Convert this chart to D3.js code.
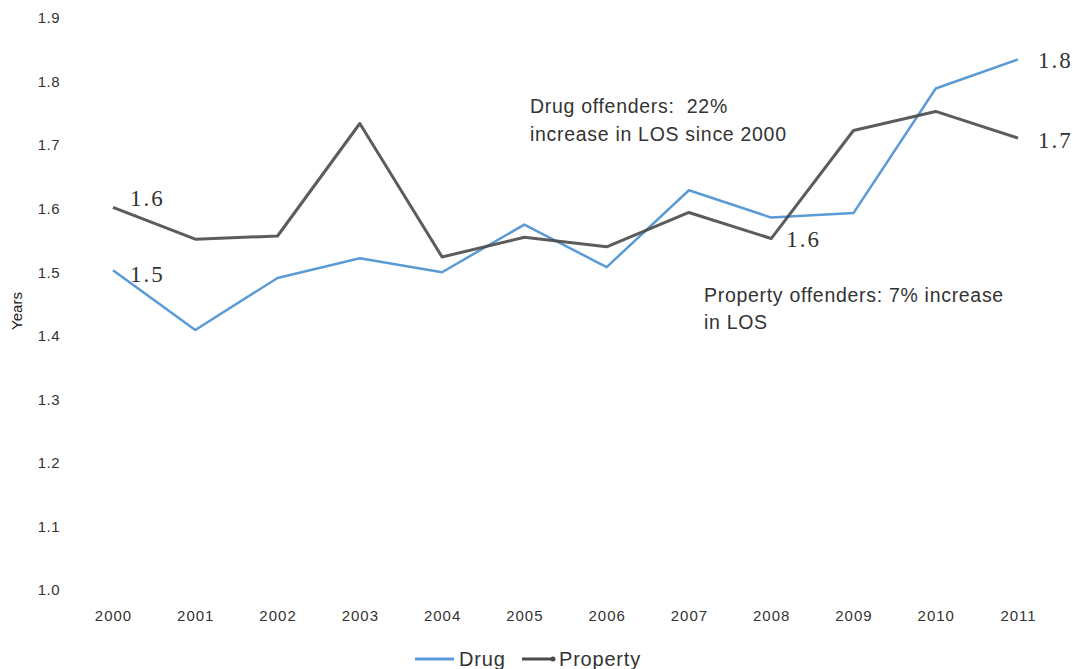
<!DOCTYPE html>
<html><head><meta charset="utf-8">
<script src="https://cdn.jsdelivr.net/npm/d3@7"></script>
<style>body{margin:0;background:#fff;} svg{display:block;} text{white-space:pre;}</style>
</head><body>
<svg id="chart" width="1073" height="669"></svg>
<script>
const years = ["2000","2001","2002","2003","2004","2005","2006","2007","2008","2009","2010","2011"];
const drug = [1.503,1.409,1.491,1.522,1.500,1.575,1.508,1.629,1.586,1.593,1.789,1.835];
const property = [1.602,1.552,1.557,1.734,1.524,1.555,1.540,1.594,1.553,1.723,1.753,1.711];
const yTicks = [1.0,1.1,1.2,1.3,1.4,1.5,1.6,1.7,1.8,1.9];
const seriesNames = ["Drug","Property"];
const colors = ["#5b9bd5","#4a4a4a"];

const svg = d3.select("#chart");
const x = d3.scalePoint().domain(years).range([113,1018]);
const y = d3.scaleLinear().domain([1.0,1.9]).range([590,18]);
const font = "'Liberation Sans', Arial, sans-serif";

// y axis labels
const yAxis = d3.axisLeft(y).tickValues(yTicks).tickFormat(d3.format(".1f")).tickSize(0).tickPadding(0);
const gy = svg.append("g").attr("transform","translate(60,0)").call(yAxis);
gy.select(".domain").remove();
gy.selectAll("text").attr("font-family",font).attr("font-size",15).attr("letter-spacing",0.5).attr("fill","#333");

// x axis labels
const xAxis = d3.axisBottom(x).tickSize(0).tickPadding(0);
const gx = svg.append("g").attr("transform","translate(0,610)").call(xAxis);
gx.select(".domain").remove();
gx.selectAll("text").attr("font-family",font).attr("font-size",15).attr("letter-spacing",1).attr("fill","#333");

// y title
svg.append("text").attr("transform","translate(22,311) rotate(-90)")
  .attr("text-anchor","middle").attr("font-family",font).attr("font-size",15).attr("fill","#222").text("Years");

const line = d3.line().x((d,i)=>x(years[i])).y(d=>y(d));
svg.append("path").datum(drug).attr("d",line).attr("fill","none")
  .attr("stroke",colors[0]).attr("stroke-width",2.5).attr("stroke-linejoin","round");
svg.append("path").datum(property).attr("d",line).attr("fill","none")
  .attr("stroke",colors[1]).attr("stroke-width",3).attr("stroke-linejoin","round").attr("opacity",0.9);

// data labels
const serif = "'Liberation Serif', 'DejaVu Serif', serif";
const labels = [
  {s:property, i:0, dx:17, dy:-1, t:"1.6"},
  {s:drug, i:0, dx:17, dy:12, t:"1.5"},
  {s:property, i:8, dx:15, dy:8, t:"1.6"},
  {s:drug, i:11, dx:20, dy:9, t:"1.8"},
  {s:property, i:11, dx:20, dy:10, t:"1.7"}
];
svg.selectAll("text.dl").data(labels).enter().append("text").attr("class","dl")
  .attr("x",d=>x(years[d.i])+d.dx).attr("y",d=>y(d.s[d.i])+d.dy)
  .attr("font-family",serif).attr("font-size",23).attr("letter-spacing",2).attr("fill","#333").text(d=>d.t);

// annotations
const ann = [
  {x:530,y:113,t:"Drug offenders:  22%"},
  {x:530,y:141,t:"increase in LOS since 2000"},
  {x:704,y:302,t:"Property offenders: 7% increase"},
  {x:704,y:329,t:"in LOS"}
];
svg.selectAll("text.ann").data(ann).enter().append("text").attr("class","ann")
  .attr("x",d=>d.x).attr("y",d=>d.y).attr("font-family",font).attr("font-size",19.5)
  .attr("letter-spacing",0.7).attr("fill","#333").text(d=>d.t);

// legend
const lg = svg.append("g");
lg.append("line").attr("x1",415).attr("x2",454).attr("y1",659).attr("y2",659).attr("stroke",colors[0]).attr("stroke-width",3);
lg.append("text").attr("x",459).attr("y",666).attr("font-family",font).attr("font-size",20).attr("letter-spacing",0.8).attr("fill","#333").text(seriesNames[0]);
lg.append("line").attr("x1",522).attr("x2",553).attr("y1",659).attr("y2",659).attr("stroke",colors[1]).attr("stroke-width",3);
lg.append("circle").attr("cx",553).attr("cy",659).attr("r",2.5).attr("fill",colors[1]);
lg.append("text").attr("x",559).attr("y",666).attr("font-family",font).attr("font-size",20).attr("letter-spacing",0.8).attr("fill","#333").text(seriesNames[1]);
</script>
</body></html>
